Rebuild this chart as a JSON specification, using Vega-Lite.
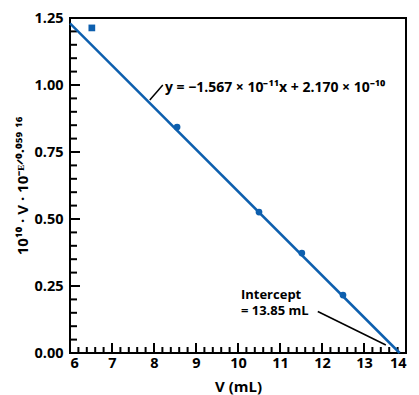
{
  "$schema": "https://vega.github.io/schema/vega-lite/v6.json",
  "width": 336,
  "height": 335,
  "autosize": "none",
  "padding": {"left": 70, "top": 18, "right": 13, "bottom": 42},
  "background": "white",
  "config": {
    "view": {"stroke": "black", "strokeWidth": 2},
    "font": "Open Sans",
    "axis": {
      "grid": false,
      "labelFont": "Open Sans",
      "labelFontWeight": "bold",
      "labelFontSize": 14.5,
      "labelColor": "black",
      "titleFont": "Open Sans",
      "titleFontWeight": "bold",
      "titleFontSize": 15,
      "titleColor": "black"
    }
  },
  "datasets": {
    "fit": [{"V": 6, "y": 1.2298}, {"V": 13.85, "y": 0}],
    "points": [
      {"V": 6.52, "y": 1.213, "kind": "excluded"},
      {"V": 8.55, "y": 0.843, "kind": "used"},
      {"V": 10.5, "y": 0.526, "kind": "used"},
      {"V": 11.52, "y": 0.373, "kind": "used"},
      {"V": 12.5, "y": 0.216, "kind": "used"}
    ],
    "leaders": [
      {"V": 7.9, "y": 0.944, "id": "eq"},
      {"V": 8.21, "y": 1.0, "id": "eq"},
      {"V": 11.9, "y": 0.155, "id": "int"},
      {"V": 13.52, "y": 0.03, "id": "int"}
    ],
    "equation": [
      {"V": 8.26, "y": 0.99, "text": "y = −1.567 × 10⁻¹¹x + 2.170 × 10⁻¹⁰"}
    ],
    "intercept": [
      {"V": 10.07, "y": 0.218, "text": "Intercept"},
      {"V": 10.07, "y": 0.155, "text": "= 13.85 mL"}
    ],
    "yMajor": [{"y": 0.25}, {"y": 0.5}, {"y": 0.75}, {"y": 1.0}],
    "yMinor": [{"y": 0.05}, {"y": 0.1}, {"y": 0.15}, {"y": 0.2}, {"y": 0.3}, {"y": 0.35}, {"y": 0.4}, {"y": 0.45}, {"y": 0.55}, {"y": 0.6}, {"y": 0.65}, {"y": 0.7}, {"y": 0.8}, {"y": 0.85}, {"y": 0.9}, {"y": 0.95}, {"y": 1.05}, {"y": 1.1}, {"y": 1.15}, {"y": 1.2}],
    "xMajor": [{"V": 7}, {"V": 8}, {"V": 9}, {"V": 10}, {"V": 11}, {"V": 12}, {"V": 13}],
    "xMinor": [{"V": 6.2}, {"V": 6.4}, {"V": 6.6}, {"V": 6.8}, {"V": 7.2}, {"V": 7.4}, {"V": 7.6}, {"V": 7.8}, {"V": 8.2}, {"V": 8.4}, {"V": 8.6}, {"V": 8.8}, {"V": 9.2}, {"V": 9.4}, {"V": 9.6}, {"V": 9.8}, {"V": 10.2}, {"V": 10.4}, {"V": 10.6}, {"V": 10.8}, {"V": 11.2}, {"V": 11.4}, {"V": 11.6}, {"V": 11.8}, {"V": 12.2}, {"V": 12.4}, {"V": 12.6}, {"V": 12.8}, {"V": 13.2}, {"V": 13.4}, {"V": 13.6}, {"V": 13.8}]
  },
  "layer": [
    {
      "data": {"name": "points"},
      "mark": {"type": "point", "filled": true, "opacity": 1, "color": "#0d5fae"},
      "encoding": {
        "x": {
          "field": "V", "type": "quantitative",
          "scale": {"domain": [6, 14], "nice": false, "zero": false},
          "axis": {
            "title": "V  (mL)",
            "titlePadding": 10,
            "values": [6,7,8,9,10,11,12,13,14],
            "format": "d",
            "domain": false,
            "ticks": false,
            "labelPadding": 3
          }
        },
        "y": {
          "field": "y", "type": "quantitative",
          "scale": {"domain": [0, 1.25], "nice": false},
          "axis": {
            "title": "10¹⁰ · V · 10⁻ᴱᐟ⁰·⁰⁵⁹ ¹⁶",
            "titlePadding": 3,
            "values": [0,0.25,0.5,0.75,1,1.25],
            "format": ".2f",
            "domain": false,
            "ticks": false,
            "labelPadding": 7
          }
        },
        "shape": {"field": "kind", "type": "nominal", "scale": {"domain": ["excluded", "used"], "range": ["square", "circle"]}, "legend": null},
        "size": {"value": 45}
      }
    },
    {
      "data": {"name": "yMajor"},
      "mark": {"type": "tick", "orient": "horizontal", "size": 10, "thickness": 2, "xOffset": 5, "color": "black", "opacity": 1},
      "encoding": {"x": {"datum": 6, "type": "quantitative"}, "y": {"field": "y", "type": "quantitative"}}
    },
    {
      "data": {"name": "yMinor"},
      "mark": {"type": "tick", "orient": "horizontal", "size": 7, "thickness": 2, "xOffset": 3.5, "color": "black", "opacity": 1},
      "encoding": {"x": {"datum": 6, "type": "quantitative"}, "y": {"field": "y", "type": "quantitative"}}
    },
    {
      "data": {"name": "xMajor"},
      "mark": {"type": "tick", "orient": "vertical", "size": 10, "thickness": 2, "yOffset": -5, "color": "black", "opacity": 1},
      "encoding": {"x": {"field": "V", "type": "quantitative"}, "y": {"datum": 0, "type": "quantitative"}}
    },
    {
      "data": {"name": "xMinor"},
      "mark": {"type": "tick", "orient": "vertical", "size": 6, "thickness": 2, "yOffset": -3, "color": "black", "opacity": 1},
      "encoding": {"x": {"field": "V", "type": "quantitative"}, "y": {"datum": 0, "type": "quantitative"}}
    },
    {
      "data": {"name": "fit"},
      "mark": {"type": "line", "color": "#0d5fae", "strokeWidth": 2.5},
      "encoding": {
        "x": {"field": "V", "type": "quantitative"},
        "y": {"field": "y", "type": "quantitative"}
      }
    },
    {
      "data": {"name": "leaders"},
      "mark": {"type": "line", "color": "black", "strokeWidth": 1.5},
      "encoding": {
        "x": {"field": "V", "type": "quantitative"},
        "y": {"field": "y", "type": "quantitative"},
        "detail": {"field": "id"}
      }
    },
    {
      "data": {"name": "equation"},
      "mark": {"type": "text", "align": "left", "baseline": "middle", "fontWeight": "bold", "fontSize": 14, "font": "Open Sans", "color": "black"},
      "encoding": {
        "x": {"field": "V", "type": "quantitative"},
        "y": {"field": "y", "type": "quantitative"},
        "text": {"field": "text"}
      }
    },
    {
      "data": {"name": "intercept"},
      "mark": {"type": "text", "align": "left", "baseline": "middle", "fontWeight": "bold", "fontSize": 13, "font": "Open Sans", "color": "black"},
      "encoding": {
        "x": {"field": "V", "type": "quantitative"},
        "y": {"field": "y", "type": "quantitative"},
        "text": {"field": "text"}
      }
    }
  ]
}
